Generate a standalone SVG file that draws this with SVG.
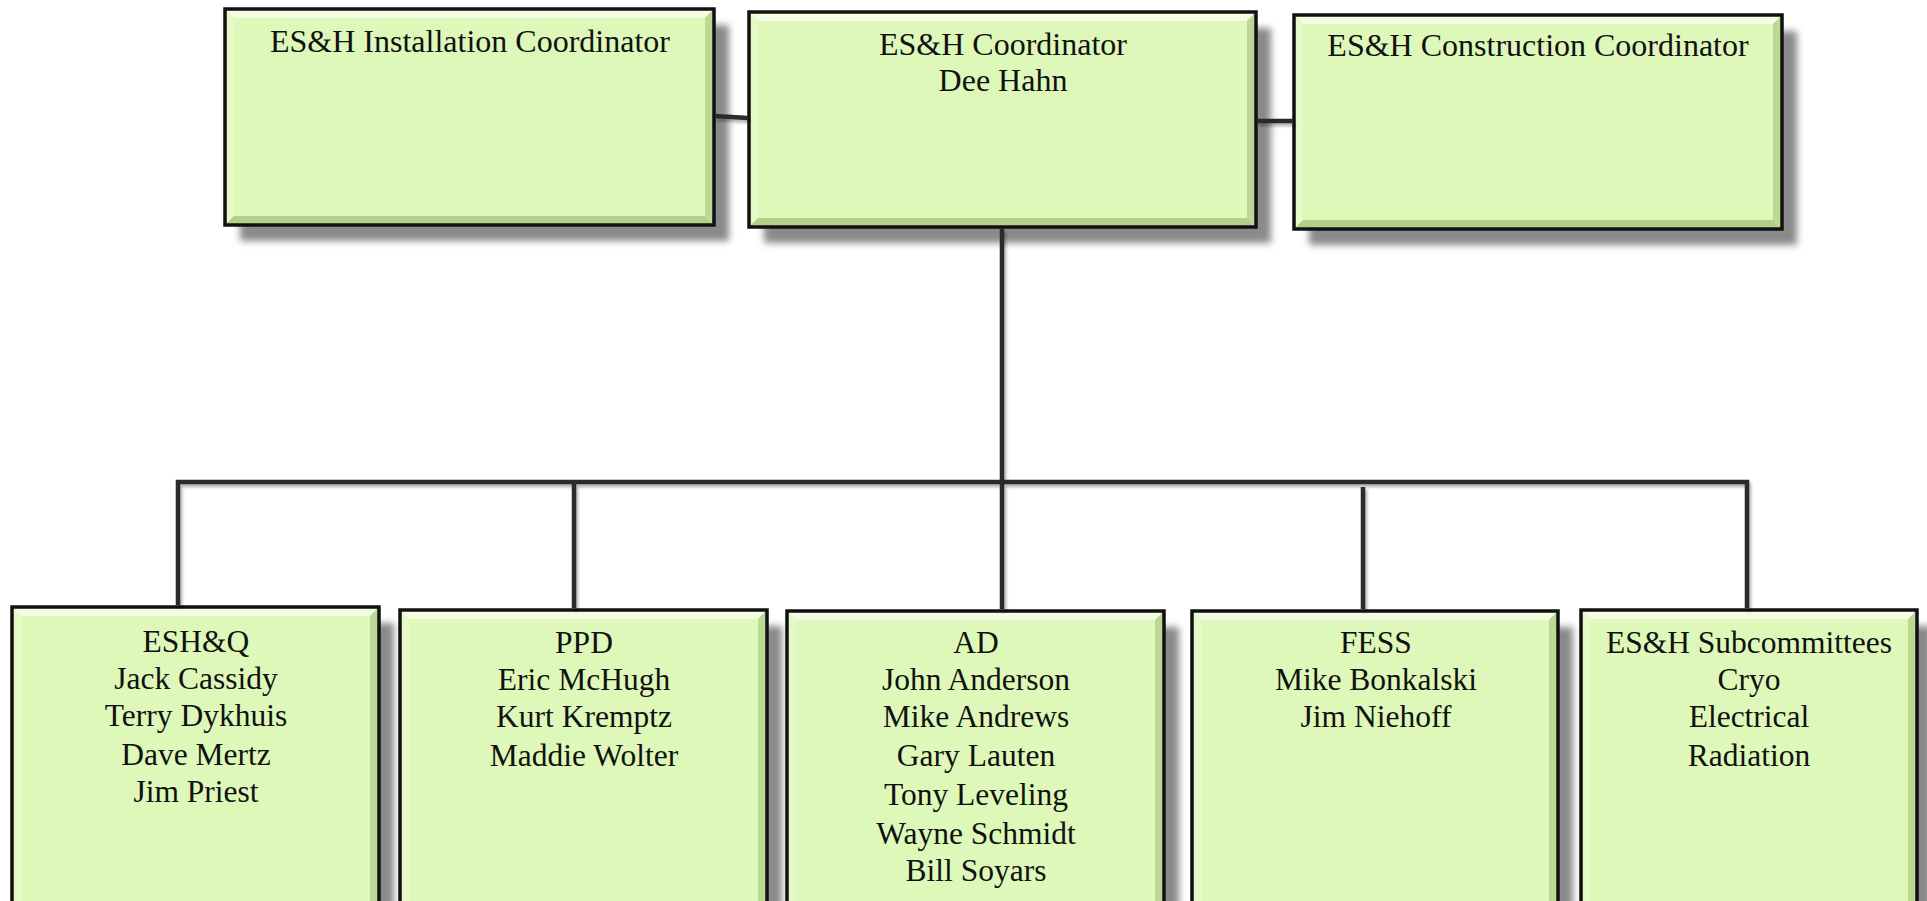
<svg xmlns="http://www.w3.org/2000/svg" width="1927" height="901" viewBox="0 0 1927 901">
<defs>
<filter id="sh" x="-10%" y="-10%" width="130%" height="130%"><feGaussianBlur stdDeviation="3.5"/></filter>
<filter id="lsh" x="-5%" y="-50%" width="110%" height="300%">
<feGaussianBlur in="SourceAlpha" stdDeviation="1.5" result="b"/><feOffset dx="2" dy="3" result="o"/>
<feComponentTransfer in="o" result="s"><feFuncA type="linear" slope="0.3"/></feComponentTransfer>
<feMerge><feMergeNode in="s"/><feMergeNode in="SourceGraphic"/></feMerge></filter>
</defs>
<style>
.shadow{fill:#8a8a8a;filter:url(#sh)}
.face{fill:#DDF8B8}
.bt{fill:#F3FDE3}
.bl{fill:#E6FAC8}
.br{fill:#BCD895}
.bb{fill:#B3CF89}
.frame{fill:none;stroke:#111;stroke-width:3.5}
.t{font-family:"Liberation Serif","Times New Roman",serif;font-size:32px;fill:#111;text-anchor:middle}
.s{font-family:"Liberation Serif","Times New Roman",serif;font-size:31.5px;fill:#111;text-anchor:middle}
.c{fill:none;stroke:#2b2b2b;stroke-width:4.5;stroke-linejoin:miter}
</style>

<g id="installation">
<rect class="shadow" x="240" y="25" width="489" height="216"/>
<rect class="face" x="225" y="9" width="489" height="216"/>
<polygon class="bt" points="225,9 714,9 705,18 234,18"/>
<polygon class="bl" points="225,9 234,18 234,216 225,225"/>
<polygon class="br" points="714,9 714,225 705,216 705,18"/>
<polygon class="bb" points="225,225 234,216 705,216 714,225"/>
<rect class="frame" x="225" y="9" width="489" height="216"/>
<text class="t" x="470" y="52">ES&amp;H Installation Coordinator</text>
</g>

<g id="coordinator">
<rect class="shadow" x="764" y="28" width="507" height="215"/>
<rect class="face" x="749" y="12" width="507" height="215"/>
<polygon class="bt" points="749,12 1256,12 1247,21 758,21"/>
<polygon class="bl" points="749,12 758,21 758,218 749,227"/>
<polygon class="br" points="1256,12 1256,227 1247,218 1247,21"/>
<polygon class="bb" points="749,227 758,218 1247,218 1256,227"/>
<rect class="frame" x="749" y="12" width="507" height="215"/>
<text class="t" x="1003" y="55">ES&amp;H Coordinator</text>
<text class="t" x="1003" y="91">Dee Hahn</text>
</g>

<g id="construction">
<rect class="shadow" x="1309" y="31" width="488" height="214"/>
<rect class="face" x="1294" y="15" width="488" height="214"/>
<polygon class="bt" points="1294,15 1782,15 1773,24 1303,24"/>
<polygon class="bl" points="1294,15 1303,24 1303,220 1294,229"/>
<polygon class="br" points="1782,15 1782,229 1773,220 1773,24"/>
<polygon class="bb" points="1294,229 1303,220 1773,220 1782,229"/>
<rect class="frame" x="1294" y="15" width="488" height="214"/>
<text class="t" x="1538" y="56">ES&amp;H Construction Coordinator</text>
</g>

<g id="eshq">
<rect class="shadow" x="27" y="623" width="367" height="320"/>
<rect class="face" x="12" y="607" width="367" height="320"/>
<polygon class="bt" points="12,607 379,607 370,616 21,616"/>
<polygon class="bl" points="12,607 21,616 21,918 12,927"/>
<polygon class="br" points="379,607 379,927 370,918 370,616"/>
<rect class="frame" x="12" y="607" width="367" height="320"/>
<text class="s" x="196" y="652">ESH&amp;Q</text>
<text class="s" x="196" y="689">Jack Cassidy</text>
<text class="s" x="196" y="726">Terry Dykhuis</text>
<text class="s" x="196" y="765">Dave Mertz</text>
<text class="s" x="196" y="802">Jim Priest</text>
</g>

<g id="ppd">
<rect class="shadow" x="415" y="626" width="367" height="320"/>
<rect class="face" x="400" y="610" width="367" height="320"/>
<polygon class="bt" points="400,610 767,610 758,619 409,619"/>
<polygon class="bl" points="400,610 409,619 409,921 400,930"/>
<polygon class="br" points="767,610 767,930 758,921 758,619"/>
<rect class="frame" x="400" y="610" width="367" height="320"/>
<text class="s" x="584" y="653">PPD</text>
<text class="s" x="584" y="690">Eric McHugh</text>
<text class="s" x="584" y="727">Kurt Kremptz</text>
<text class="s" x="584" y="766">Maddie Wolter</text>
</g>

<g id="ad">
<rect class="shadow" x="802" y="627" width="377" height="320"/>
<rect class="face" x="787" y="611" width="377" height="320"/>
<polygon class="bt" points="787,611 1164,611 1155,620 796,620"/>
<polygon class="bl" points="787,611 796,620 796,922 787,931"/>
<polygon class="br" points="1164,611 1164,931 1155,922 1155,620"/>
<rect class="frame" x="787" y="611" width="377" height="320"/>
<text class="s" x="976" y="653">AD</text>
<text class="s" x="976" y="690">John Anderson</text>
<text class="s" x="976" y="727">Mike Andrews</text>
<text class="s" x="976" y="766">Gary Lauten</text>
<text class="s" x="976" y="805">Tony Leveling</text>
<text class="s" x="976" y="844">Wayne Schmidt</text>
<text class="s" x="976" y="881">Bill Soyars</text>
</g>

<g id="fess">
<rect class="shadow" x="1207" y="627" width="366" height="320"/>
<rect class="face" x="1192" y="611" width="366" height="320"/>
<polygon class="bt" points="1192,611 1558,611 1549,620 1201,620"/>
<polygon class="bl" points="1192,611 1201,620 1201,922 1192,931"/>
<polygon class="br" points="1558,611 1558,931 1549,922 1549,620"/>
<rect class="frame" x="1192" y="611" width="366" height="320"/>
<text class="s" x="1376" y="653">FESS</text>
<text class="s" x="1376" y="690">Mike Bonkalski</text>
<text class="s" x="1376" y="727">Jim Niehoff</text>
</g>

<g id="subcommittees">
<rect class="shadow" x="1596" y="626" width="336" height="320"/>
<rect class="face" x="1581" y="610" width="336" height="320"/>
<polygon class="bt" points="1581,610 1917,610 1908,619 1590,619"/>
<polygon class="bl" points="1581,610 1590,619 1590,921 1581,930"/>
<polygon class="br" points="1917,610 1917,930 1908,921 1908,619"/>
<rect class="frame" x="1581" y="610" width="336" height="320"/>
<text class="s" x="1749" y="653">ES&amp;H Subcommittees</text>
<text class="s" x="1749" y="690">Cryo</text>
<text class="s" x="1749" y="727">Electrical</text>
<text class="s" x="1749" y="766">Radiation</text>
</g>

<g id="connectors" filter="url(#lsh)">
<path class="c" d="M715,116 L748,118"/>
<path class="c" d="M1257,121 L1293,121"/>
<path class="c" d="M1002,229 V482"/>
<path class="c" d="M178,605 V482 H1747 V608"/>
<path class="c" d="M574,482 V608"/>
<path class="c" d="M1002,482 V609"/>
<path class="c" d="M1363,487 V609"/>
</g>
</svg>
